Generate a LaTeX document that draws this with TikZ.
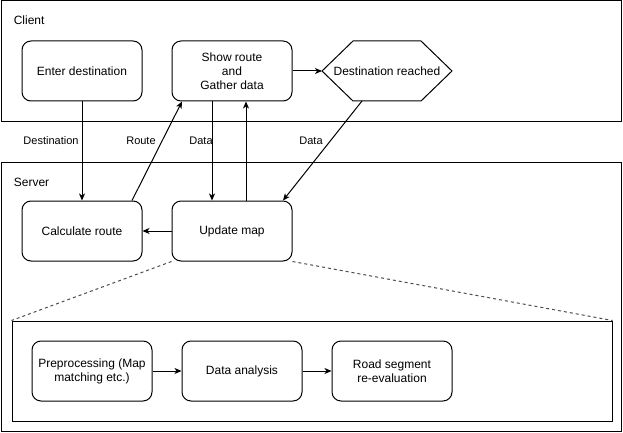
\documentclass[tikz,border=0pt]{standalone}
\usepackage{fontspec}
\setmainfont{Liberation Sans}
\usetikzlibrary{arrows.meta}

\begin{document}
\begin{tikzpicture}[x=1pt, y=-1pt, line width=1pt,
    font=\fontsize{12}{14}\selectfont,
    procbox/.style={draw, rounded corners=9pt, minimum width=120pt,
      minimum height=60pt, inner sep=0pt, align=center},
    flow/.style={-{Stealth[length=7pt, width=6pt, inset=2pt]}},
    flowlabel/.style={font=\fontsize{11}{13}\selectfont, inner sep=1pt},
    zoomline/.style={black!70, dash pattern=on 3pt off 3pt}]
    \useasboundingbox (0,0) rectangle (623,433);
    % lanes
    \draw (1,1) rectangle (621,121);
    \draw (1,162) rectangle (621,431);
    \node[anchor=west] (clientlbl) at (10,20) {Client};
    \node[anchor=west] (serverlbl) at (10,182) {Server};
    % client steps
    \node[procbox] (enter) at (82,71) {Enter destination};
    \node[procbox] (show) at (232,71) {Show route\\and\\Gather data};
    \node (dest) at (387,71) {Destination reached};
    \coordinate (dest-w) at (322,71);
    \coordinate (dest-s) at (362,101);
    \draw (dest-w) -- (353,41) -- (421,41) -- (452,71) -- (421,101)
      -- (353,101) -- cycle;
    % server steps
    \node[procbox] (calc) at (82,231) {Calculate route};
    \node[procbox] (update) at (232,231) {Update map};
    % detail of the map update
    \node[draw, minimum width=600pt, minimum height=100pt, inner sep=0pt]
      (detail) at (312,371) {};
    \node[procbox] (prep) at (92,371) {Preprocessing (Map\\matching etc.)};
    \node[procbox] (analysis) at (242,371) {Data analysis};
    \node[procbox] (road) at (392,371) {Road segment\\re-evaluation};
    % connectors between client and server
    \draw[flow] (show.east) -- (dest-w);
    \draw[flow] (enter.south) -- (calc.north);
    \draw[flow] ([xshift=50pt]calc.north) -- ([xshift=-50pt]show.south);
    \draw[flow] ([xshift=-20pt]show.south) -- ([xshift=-20pt]update.north);
    \draw[flow] ([xshift=14pt]update.north) -- ([xshift=14pt]show.south);
    \draw[flow] (dest-s) -- ([xshift=51pt]update.north);
    \draw[flow] (update.west) -- (calc.east);
    \node[flowlabel] (lbldest) at (51,141) {Destination};
    \node[flowlabel] (lblroute) at (141,141) {Route};
    \node[flowlabel] (lbldata) at (201,141) {Data};
    \node[flowlabel] (lbldata2) at (311,141) {Data};
    % inside the detail
    \draw[flow] (prep.east) -- (analysis.west);
    \draw[flow] (analysis.east) -- (road.west);
    \draw[zoomline] (update.south west) -- (detail.north west);
    \draw[zoomline] (update.south east) -- (detail.north east);
\end{tikzpicture}
\end{document}
